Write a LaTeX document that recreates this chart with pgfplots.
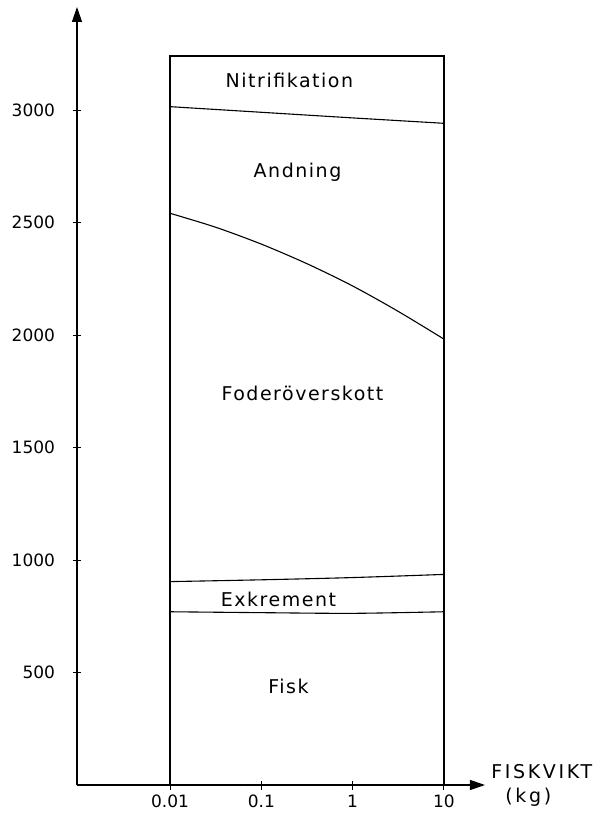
\documentclass[border=0pt]{standalone}
\usepackage{fontspec}
\setmainfont{DejaVu Sans}
\newfontfamily\lbl[LetterSpace=8]{DejaVu Sans}
\newfontfamily\lblw[LetterSpace=14]{DejaVu Sans}
\usepackage{pgfplots}
\pgfplotsset{compat=1.18}
\usetikzlibrary{arrows.meta}

\begin{document}
\begin{tikzpicture}[x=1pt,y=1pt]
% page = 600 x 815 px, 1px = 1pt, axis corner at px (77,785)
\path[use as bounding box] (-77,-30) rectangle (523,785);
\begin{axis}[
    at={(0,0)}, anchor=south west,
    scale only axis,
    width=408pt, height=778pt,
    xmode=log,
    xmin=0.000955, xmax=28.2,
    ymin=0, ymax=3458,
    axis lines=left,
    axis line style={line width=1.3pt},
    every outer x axis line/.append style={-{Triangle[length=15pt,width=10pt]}},
    every outer y axis line/.append style={-{Triangle[length=15pt,width=10pt]}},
    xtick={0.01,0.1,1,10},
    xticklabels={0.01,0.1,1,10},
    minor xtick={},
    ytick={500,1000,1500,2000,2500,3000},
    yticklabels={500,1000,1500,2000,2500,3000},
    tick align=center,
    major tick length=9pt,
    tick style={line width=1pt, black},
    ticklabel style={font=\fontsize{17}{19}\selectfont},
    yticklabel style={xshift=-14pt},
    xticklabel style={yshift=-2pt},
    /pgf/number format/assume math mode=true,
    clip=false,
]
% box 0.01 .. 10 kg
\addplot[black, line width=1.4pt] coordinates {
    (0.01,0) (0.01,3240) (10,3240) (10,0)
};
% Nitrifikation / Andning
\addplot[black, line width=1.1pt] coordinates {
    (0.01,3015) (0.1,2990) (1,2965) (10,2941)
};
% Andning / Foderoverskott
\addplot[black, line width=1.1pt, smooth] coordinates {
    (0.01,2541) (0.0316,2479) (0.1,2404) (0.316,2317) (1,2218) (3.16,2105) (10,1982)
};
% Foderoverskott / Exkrement
\addplot[black, line width=1.1pt, smooth] coordinates {
    (0.01,904) (0.1,912) (1,922) (10,936)
};
% Exkrement / Fisk
\addplot[black, line width=1.1pt, smooth] coordinates {
    (0.01,770) (0.1,766) (1,763) (10,770)
};
\node[font=\lbl\fontsize{19}{22}\selectfont] at (axis cs:0.203,3133) {Nitrifikation};
\node[font=\lbl\fontsize{19}{22}\selectfont] at (axis cs:0.249,2724) {Andning};
\node[font=\lbl\fontsize{19}{22}\selectfont] at (axis cs:0.282,1742) {Foderöverskott};
\node[font=\lbl\fontsize{19}{22}\selectfont] at (axis cs:0.154,827) {Exkrement};
\node[font=\lbl\fontsize{19}{22}\selectfont] at (axis cs:0.198,436) {Fisk};
\node[font=\lblw\fontsize{19}{22}\selectfont] at (axis cs:118,58) {FISKVIKT};
\node[font=\lblw\fontsize{19}{22}\selectfont] at (axis cs:84,-53) {(kg)};
\end{axis}
\end{tikzpicture}
\end{document}
